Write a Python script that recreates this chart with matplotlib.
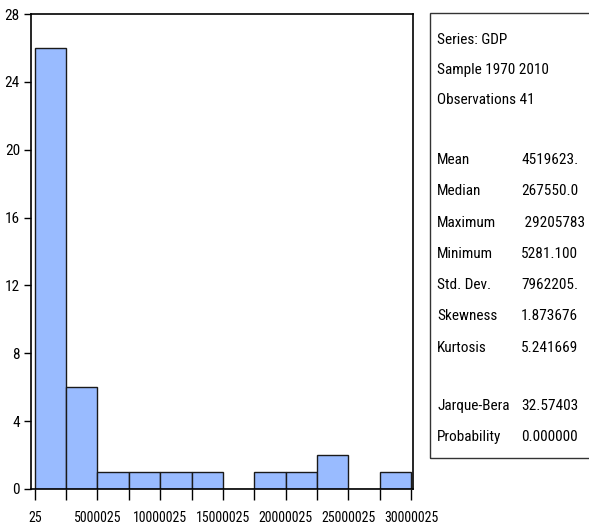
import matplotlib
matplotlib.use('Agg')
import matplotlib.pyplot as plt
from matplotlib import font_manager
from matplotlib.patches import Rectangle
from matplotlib.ticker import FixedLocator

# pick the narrowest sans available
installed = {f.name for f in font_manager.fontManager.ttflist}
FONT = 'DejaVu Sans'
for name in ['Liberation Sans Narrow', 'Roboto Condensed', 'DejaVu Sans Condensed', 'Liberation Sans']:
    if name in installed:
        FONT = name
        break
plt.rcParams['font.family'] = FONT

# histogram of GDP, 1970-2010
bin_start = 25
bin_width = 2500000
counts = [26, 6, 1, 1, 1, 1, 0, 1, 1, 2, 0, 1]
bin_edges = [bin_start + bin_width * i for i in range(len(counts) + 1)]
label_ticks = [25, 5000025, 10000025, 15000025, 20000025, 25000025, 30000025]
y_ticks = [0, 4, 8, 12, 16, 20, 24, 28]

header_lines = ['Series: GDP', 'Sample 1970 2010', 'Observations 41']
stat_names = ['Mean', 'Median', 'Maximum', 'Minimum', 'Std. Dev.', 'Skewness', 'Kurtosis']
stat_values = ['4519623.', '267550.0', ' 29205783', '5281.100', '7962205.', '1.873676', '5.241669']
test_names = ['Jarque-Bera', 'Probability']
test_values = ['32.57403', '0.000000']

W, H = 589, 527
fig = plt.figure(figsize=(W / 100, H / 100), dpi=100)
ax = fig.add_axes([31 / W, 1 - 489 / H, (413 - 31) / W, (489 - 14) / H])

ax.bar(bin_edges[:-1], counts, width=bin_width, align='edge',
       color='#99bbff', edgecolor='#1a1a1a', linewidth=1.0)

ax.set_xlim(-300000, 30160000)
ax.set_ylim(0, 28)
ax.xaxis.set_major_locator(FixedLocator(label_ticks))
ax.xaxis.set_minor_locator(FixedLocator(bin_edges))
ax.set_xticklabels([str(t) for t in label_ticks])
ax.set_yticks(y_ticks)
ax.tick_params(axis='x', which='both', direction='out', length=8, width=1, pad=8,
               labelsize=10)
ax.tick_params(axis='y', direction='out', length=5, width=1, pad=3, labelsize=11)
for s in ax.spines.values():
    s.set_linewidth(1.2)
    s.set_color('black')


def fx(px):
    return px / W


def fy(py):
    return 1 - py / H


# statistics panel
fig.patches.append(Rectangle((fx(430), fy(458)), fx(620) - fx(430), fy(13) - fy(458),
                             transform=fig.transFigure, fill=False,
                             edgecolor='#333333', linewidth=1.0, clip_on=False))

text_kw = dict(fontsize=11, va='center', ha='left')
for i, line in enumerate(header_lines):
    fig.text(fx(437), fy(40 + 30 * i), line, **text_kw)
for i, (n, v) in enumerate(zip(stat_names, stat_values)):
    y = fy(160 + 31.3 * i)
    fig.text(fx(437), y, n, **text_kw)
    fig.text(fx(521), y, v, **text_kw)
for i, (n, v) in enumerate(zip(test_names, test_values)):
    y = fy(406 + 31 * i)
    fig.text(fx(437), y, n, **text_kw)
    fig.text(fx(521), y, v, **text_kw)

fig.savefig('out.png', dpi=100)
